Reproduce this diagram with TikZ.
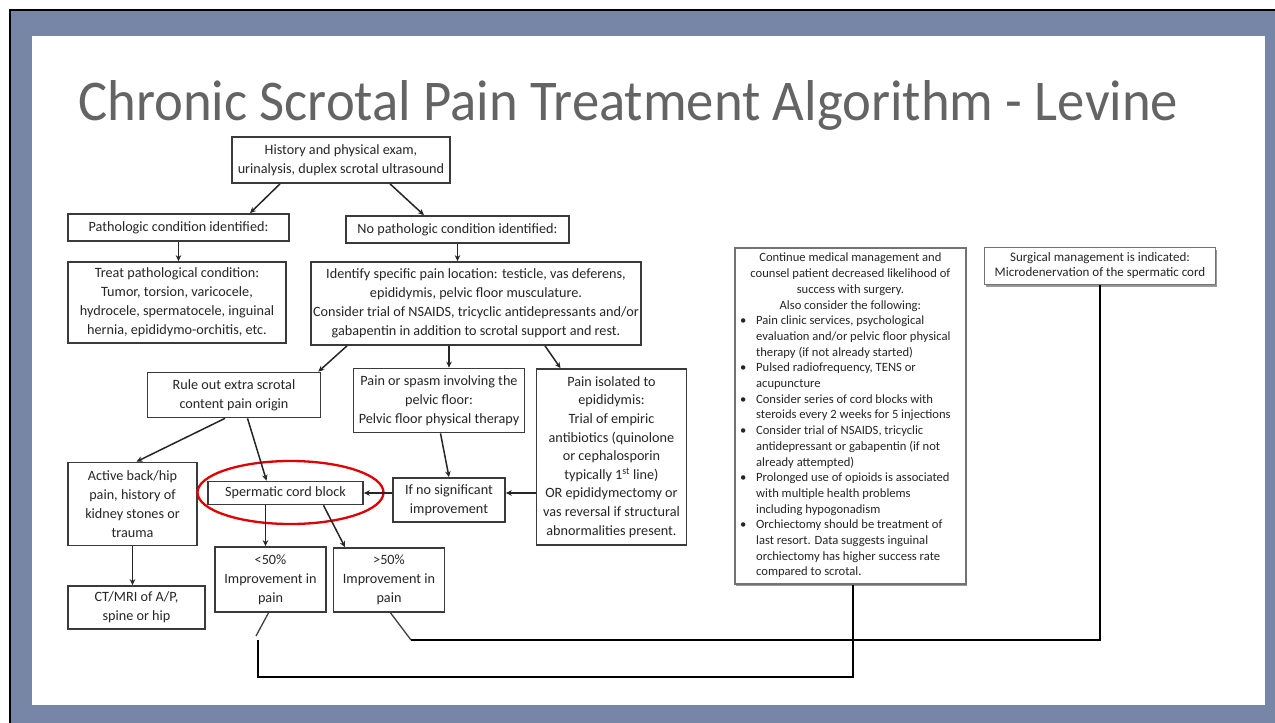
\documentclass[tikz,border=0pt]{standalone}
\usepackage{fontspec}
\usepackage{graphicx}
\setmainfont{Carlito}
\usetikzlibrary{arrows.meta,shadows}
\definecolor{slate}{HTML}{7786A7}
\definecolor{titlegray}{HTML}{646464}
\definecolor{boxline}{HTML}{3A3A3A}
\definecolor{txt}{HTML}{262626}
\definecolor{ovalred}{HTML}{E00000}
\newcommand{\mybul}{\makebox[16pt][l]{\textbullet}}
\tikzset{
  box/.style={draw=boxline, line width=1.7pt, fill=white, align=center, inner sep=2pt,
    text=txt, font=\fontsize{14.2}{19}\selectfont},
  sbox/.style={box, draw=black!55, drop shadow={shadow xshift=1.5pt, shadow yshift=-2pt, fill=black!40, opacity=1}},
  arr/.style={draw=black!85, line width=1.5pt, -{Stealth[length=6pt,width=5.5pt]}},
  thinline/.style={draw=black!75, line width=1.3pt},
  loopline/.style={draw=black, line width=2.4pt},
}
\begin{document}
\begin{tikzpicture}[x=1pt,y=-1pt]
\useasboundingbox (0,0) rectangle (1275,723);
% slide background
\fill[white] (0,0) rectangle (1275,723);
\fill[slate] (10,10) rectangle (1275,723);
\draw[black, line width=2.5pt] (10,723) -- (10,10) -- (1275,10);
\fill[white] (32,36) rectangle (1265,705);
% title
\node[anchor=base west, inner sep=0, text=titlegray] (title) at (78,120)
  {\resizebox{1100pt}{40pt}{Chronic Scrotal Pain Treatment Algorithm - Levine}};

% boxes
\node[box, minimum width=218pt, minimum height=46pt] (top) at (341,160)
  {History and physical exam,\\urinalysis, duplex scrotal ultrasound};
\node[box, minimum width=221pt, minimum height=27pt] (path) at (178.5,227.5)
  {Pathologic condition identified:};
\node[box, minimum width=223pt, minimum height=27pt] (nopath) at (457.5,229.5)
  {No pathologic condition identified:};
\node[box, minimum width=218pt, minimum height=81pt] (treat) at (177,302.5)
  {Treat pathological condition:\\Tumor, torsion, varicocele,\\hydrocele, spermatocele, inguinal\\hernia, epididymo-orchitis, etc.};
\node[box, minimum width=330pt, minimum height=83pt] (ident) at (476,303.5)
  {Identify specific pain location: testicle, vas deferens,\\epididymis, pelvic floor musculature.\\Consider trial of NSAIDS, tricyclic antidepressants and/or\\gabapentin in addition to scrotal support and rest.};
\node[box, minimum width=173pt, minimum height=45pt] (rule) at (234,395)
  {Rule out extra scrotal\\content pain origin};
\node[box, minimum width=171pt, minimum height=64pt] (pelvic) at (439,400.5)
  {Pain or spasm involving the\\pelvic floor:\\Pelvic floor physical therapy};
\node[box, minimum width=150pt, minimum height=176pt, font=\fontsize{14.2}{18.6}\selectfont] (epid) at (611.5,457)
  {Pain isolated to\\epididymis:\\Trial of empiric\\antibiotics (quinolone\\or cephalosporin\\typically 1\textsuperscript{st} line)\\OR epididymectomy or\\vas reversal if structural\\abnormalities present.};
\node[box, minimum width=129pt, minimum height=83pt] (active) at (132.5,504)
  {Active back/hip\\pain, history of\\kidney stones or\\trauma};
\node[box, minimum width=155pt, minimum height=23pt] (cord) at (285.5,493)
  {Spermatic cord block};
\node[box, minimum width=112pt, minimum height=44pt] (nosig) at (449,500)
  {If no significant\\improvement};
\node[box, minimum width=111pt, minimum height=65pt] (less) at (270.5,579.5)
  {<50\%\\Improvement in\\pain};
\node[box, minimum width=111pt, minimum height=64pt] (more) at (389,580)
  {>50\%\\Improvement in\\pain};
\node[box, minimum width=137pt, minimum height=43pt] (ct) at (136.5,607.5)
  {CT/MRI of A/P,\\spine or hip};
\node[sbox, anchor=north west, minimum width=231pt, minimum height=336pt,
  font=\fontsize{12.6}{15.7}\selectfont] (cont) at (734,247)
  {\renewcommand{\arraystretch}{1}%
   \begin{tabular}{@{}l@{}l@{\hspace{10pt}}}
   \multicolumn{2}{@{}c@{}}{Continue medical management and}\\
   \multicolumn{2}{@{}c@{}}{counsel patient decreased likelihood of}\\
   \multicolumn{2}{@{}c@{}}{success with surgery.}\\
   \multicolumn{2}{@{}c@{}}{Also consider the following:}\\
   \mybul & Pain clinic services, psychological\\
          & evaluation and/or pelvic floor physical\\
          & therapy (if not already started)\\
   \mybul & Pulsed radiofrequency, TENS or\\
          & acupuncture\\
   \mybul & Consider series of cord blocks with\\
          & steroids every 2 weeks for 5 injections\\
   \mybul & Consider trial of NSAIDS, tricyclic\\
          & antidepressant or gabapentin (if not\\
          & already attempted)\\
   \mybul & Prolonged use of opioids is associated\\
          & with multiple health problems\\
          & including hypogonadism\\
   \mybul & Orchiectomy should be treatment of\\
          & last resort. Data suggests inguinal\\
          & orchiectomy has higher success rate\\
          & compared to scrotal.
   \end{tabular}};
\node[sbox, minimum width=231pt, minimum height=37pt, font=\fontsize{13}{15}\selectfont] (surg) at (1100,266)
  {Surgical management is indicated:\\Microdenervation of the spermatic cord};

% red oval
\draw[ovalred, line width=2.3pt] (290.5,492.5) ellipse [x radius=93pt, y radius=31.5pt];

% arrows
\draw[arr] ([xshift=-61pt]top.south) -- ([xshift=71.5pt]path.north);
\draw[arr] ([xshift=49pt]top.south) -- ([xshift=-33.5pt]nopath.north);
\draw[arr] (path.south) -- (path.south |- treat.north);
\draw[arr] (nopath.south) -- (nopath.south |- ident.north);
\draw[arr] ([xshift=-129pt]ident.south) -- ([xshift=-3pt]rule.north east);
\draw[arr] ([xshift=-27pt]ident.south) -- ([xshift=-27pt]ident.south |- pelvic.north);
\draw[arr] ([xshift=69pt]ident.south) -- ([xshift=-51pt]epid.north);
\draw[arr] ([xshift=-9pt]rule.south) -- ([xshift=4pt]active.north);
\draw[arr] ([xshift=13.5pt]rule.south) -- ([xshift=-19pt]cord.north);
\draw[arr] ([xshift=1.5pt]pelvic.south) -- (nosig.north);
\draw[arr] (epid.west |- cord.east) -- (nosig.east |- cord.east);
\draw[arr] (nosig.west |- cord.east) -- (cord.east);
\draw[arr] ([xshift=-20pt]cord.south) -- ([xshift=-20pt]cord.south |- less.north);
\draw[arr] ([xshift=38pt]cord.south) -- ([xshift=-44pt]more.north);
\draw[arr] (active.south) -- (active.south |- ct.north);

% outcome lines
\coordinate (lessend) at (256,636);
\coordinate (b1) at (258,640);
\coordinate (b2) at (258,677);
\coordinate (m1) at (411,640);
\draw[thinline] ([xshift=-2pt]less.south) -- (lessend);
\draw[thinline] ([xshift=1.5pt]more.south) -- (m1);
\draw[loopline] (m1) -| (surg.south);
\draw[loopline] (b1) -- (b2) -| ([xshift=2.5pt]cont.south);
\end{tikzpicture}
\end{document}
